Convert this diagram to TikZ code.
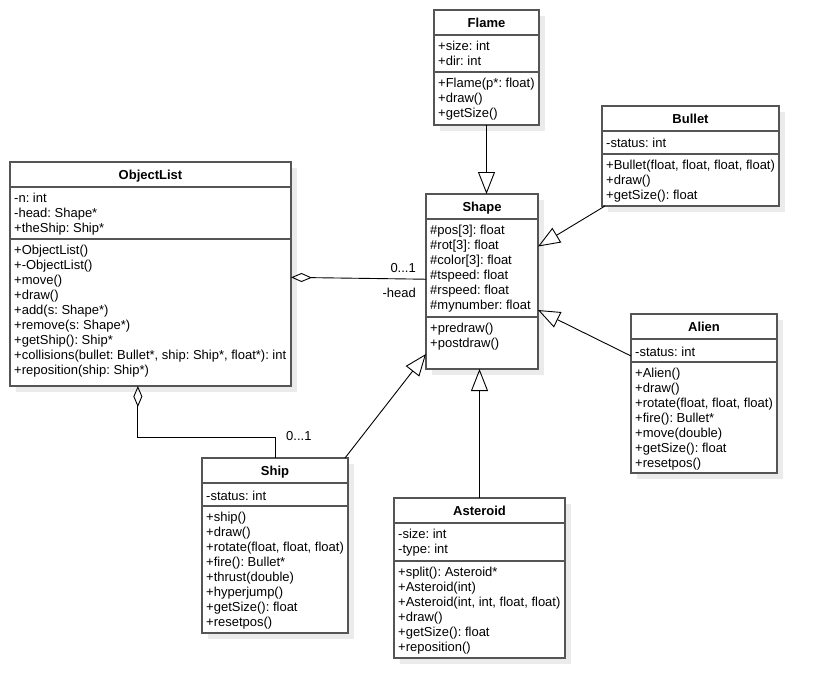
\documentclass[tikz,border=0pt]{standalone}
\usepackage{fontspec}
\setmainfont{Liberation Sans}
\frenchspacing
\usetikzlibrary{calc, arrows.meta}

\definecolor{boxline}{HTML}{555555}
\definecolor{shadowgray}{HTML}{EBEBEB}

\tikzset{
  classbox/.style = {
    shape = rectangle,
    draw = boxline,
    line width = 1.1pt,
    fill = white,
    inner sep = 0pt,
    outer sep = 0pt,
    anchor = north west,
  }
}
\tikzset{
  classname/.style = {
    font = \fontsize{13}{15}\selectfont\bfseries,
    inner sep = 0pt,
    anchor = base,
  }
}
\tikzset{
  members/.style = {
    font = \fontsize{13}{15}\selectfont,
    align = left,
    inner sep = 0pt,
    anchor = north west,
    execute at begin node = \strut,
  }
}
\tikzset{
  mult/.style = {
    font = \fontsize{13}{15}\selectfont,
    inner sep = 0pt,
  }
}
\tikzset{
  inherit/.style = {
    draw = black, line width = 0.9pt, -{Triangle[open, length = 22pt, width = 17pt]},
  }
}
\tikzset{
  aggreg/.style = {
    draw = black, line width = 0.9pt, {Diamond[open, length = 21pt, width = 9pt]}-,
  }
}

% name, top left, width, height, first rule, second rule, title, attributes, operations
\newcommand{\umlclass}[9]{%
  \fill[shadowgray] ($#2+(6,6)$) rectangle ++(#3,#4);
  \node[classbox, minimum width = #3, minimum height = #4] (#1) at #2 {};
  \draw[boxline, line width = 1.1pt] ($(#1.north west)+(0,#5)$) -- ++(#3,0);
  \draw[boxline, line width = 1.1pt] ($(#1.north west)+(0,#6)$) -- ++(#3,0);
  \node[classname] at ($(#1.north west)+(#3/2,#5/2+4.8)$) {#7};
  \node[members] at ($(#1.north west)+(4,#5+6.3)$) {#8};
  \node[members] at ($(#1.north west)+(4,#6+6.3)$) {#9};
}

\begin{document}
\begin{tikzpicture}[x = 1pt, y = -1pt]
    \fill[white] (0,0) rectangle (819,698);
    \useasboundingbox (0,0) rectangle (819,698);

    \umlclass{flame}{(434,10)}{105}{115}{25}{62}{Flame}
      {+size: int\\+dir: int}
      {+Flame(p*: float)\\+draw()\\+getSize()}
    \umlclass{bullet}{(602,106)}{177}{100}{25}{48}{Bullet}
      {-status: int}
      {+Bullet(float, float, float, float)\\+draw()\\+getSize(): float}
    \umlclass{shape}{(426,194)}{112}{175}{25}{123}{Shape}
      {\#pos[3]: float\\\#rot[3]: float\\\#color[3]: float\\\#tspeed: float\\\#rspeed: float\\\#mynumber: float}
      {+predraw()\\+postdraw()}
    \umlclass{alien}{(631,314)}{146}{159}{25}{48}{Alien}
      {-status: int}
      {+Alien()\\+draw()\\+rotate(float, float, float)\\+fire(): Bullet*\\+move(double)\\+getSize(): float\\+resetpos()}
    \umlclass{objlist}{(10,162)}{281}{224}{25}{77}{ObjectList}
      {-n: int\\-head: Shape*\\+theShip: Ship*}
      {+ObjectList()\\+-ObjectList()\\+move()\\+draw()\\+add(s: Shape*)\\+remove(s: Shape*)\\+getShip(): Ship*\\+collisions(bullet: Bullet*, ship: Ship*, float*): int\\+reposition(ship: Ship*)}
    \umlclass{ship}{(202,458)}{146}{175}{25}{48}{Ship}
      {-status: int}
      {+ship()\\+draw()\\+rotate(float, float, float)\\+fire(): Bullet*\\+thrust(double)\\+hyperjump()\\+getSize(): float\\+resetpos()}
    \umlclass{asteroid}{(394,498)}{171}{160}{25}{63}{Asteroid}
      {-size: int\\-type: int}
      {+split(): Asteroid*\\+Asteroid(int)\\+Asteroid(int, int, float, float)\\+draw()\\+getSize(): float\\+reposition()}

    % generalizations
    \draw[inherit] (flame.south) -- (flame.south |- shape.north);
    \draw[inherit] ($(bullet.south west)+(3,0)$) -- ($(shape.north east)!0.3!(shape.south east)$);
    \draw[inherit] ($(alien.north west)!0.264!(alien.south west)$) -- ($(shape.north east)!0.663!(shape.south east)$);
    \draw[inherit] ($(ship.north east)+(-3,0)$) -- ($(shape.north west)!0.914!(shape.south west)$);
    \draw[inherit] (asteroid.north) -- (asteroid.north |- shape.south);

    % aggregations
    \coordinate (headend) at ($(shape.north west)!0.487!(shape.south west)$);
    \draw[aggreg] ($(objlist.north east)!0.515!(objlist.south east)$) -- (headend);
    \node[mult, anchor = base east] (headmult) at ($(headend)+(-10,-6.5)$) {0...1};
    \node[mult, anchor = base east] (headrole) at ($(headend)+(-10,18)$) {-head};
    \draw[aggreg] ($(objlist.south west)!0.455!(objlist.south east)$) -- ++(0,51) -| (ship.north);
    \node[mult, anchor = west] (shipmult) at ($(ship.north)+(11,-21.5)$) {0...1};
\end{tikzpicture}
\end{document}
